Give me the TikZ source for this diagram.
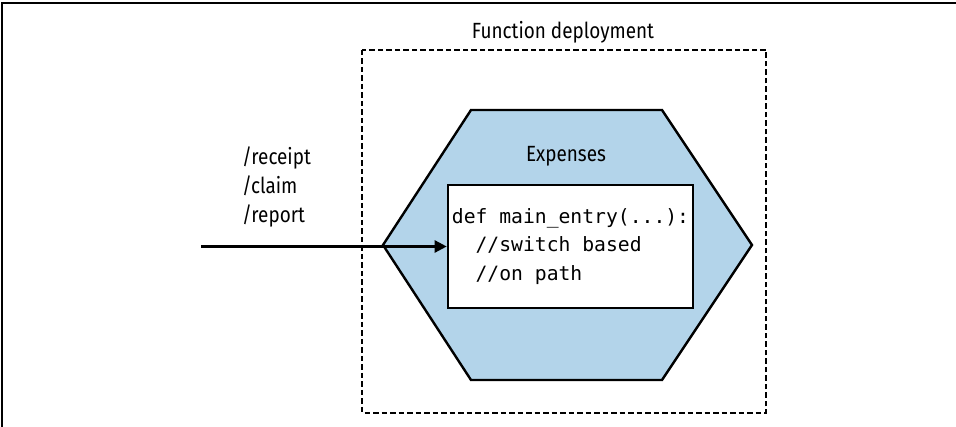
\documentclass[tikz,border=0pt]{standalone}
\usepackage{fontspec}
\setmainfont{Fira Sans}[FakeStretch=0.86]
\setmonofont{DejaVu Sans Mono}
\usetikzlibrary{positioning, arrows.meta}
\definecolor{HexBlue}{RGB}{179, 212, 234}

\begin{document}
\begin{tikzpicture}[x=1pt, y=-1pt,
    labeltext/.style={font=\fontsize{22}{29}\selectfont, inner sep=0pt},
    codebox/.style={draw, line width=2.6pt, fill=white, align=left,
      minimum width=245pt, minimum height=123pt, inner sep=0pt,
      font=\ttfamily\fontsize{19.7}{28.5}\selectfont}]
    \useasboundingbox (0,0) rectangle (956,427);

    % Outer frame (top and left only)
    \draw[line width=1.6pt] (2,427) -- (2,3) -- (956,3);

    % Deployment boundary
    \draw[line width=2.6pt, dash pattern=on 5.5pt off 3pt] (362,50) rectangle (766,413);
    \node[labeltext] (title) at (563,32) {Function deployment};

    % Hexagon
    \draw[fill=HexBlue, line width=2.4pt] (383,245) -- (471,110) -- (662,110)
      -- (752,245) -- (662,380) -- (471,380) -- cycle;
    \node[labeltext] (expenses) at (566,156) {Expenses};

    % Entry function
    \node[codebox] (code) at (570.5,246.5)
      {def main\_entry(...):\\\ \ //switch based\\\ \ //on path};

    % Incoming paths
    \node[labeltext, anchor=west, align=left] (paths) at (242,187)
      {/receipt\\/claim\\/report};
    \coordinate (src) at (201,246.5);
    \draw[-{Triangle[length=12pt,width=12pt]}, line width=2.4pt] (src) -- (code.west);
\end{tikzpicture}
\end{document}
